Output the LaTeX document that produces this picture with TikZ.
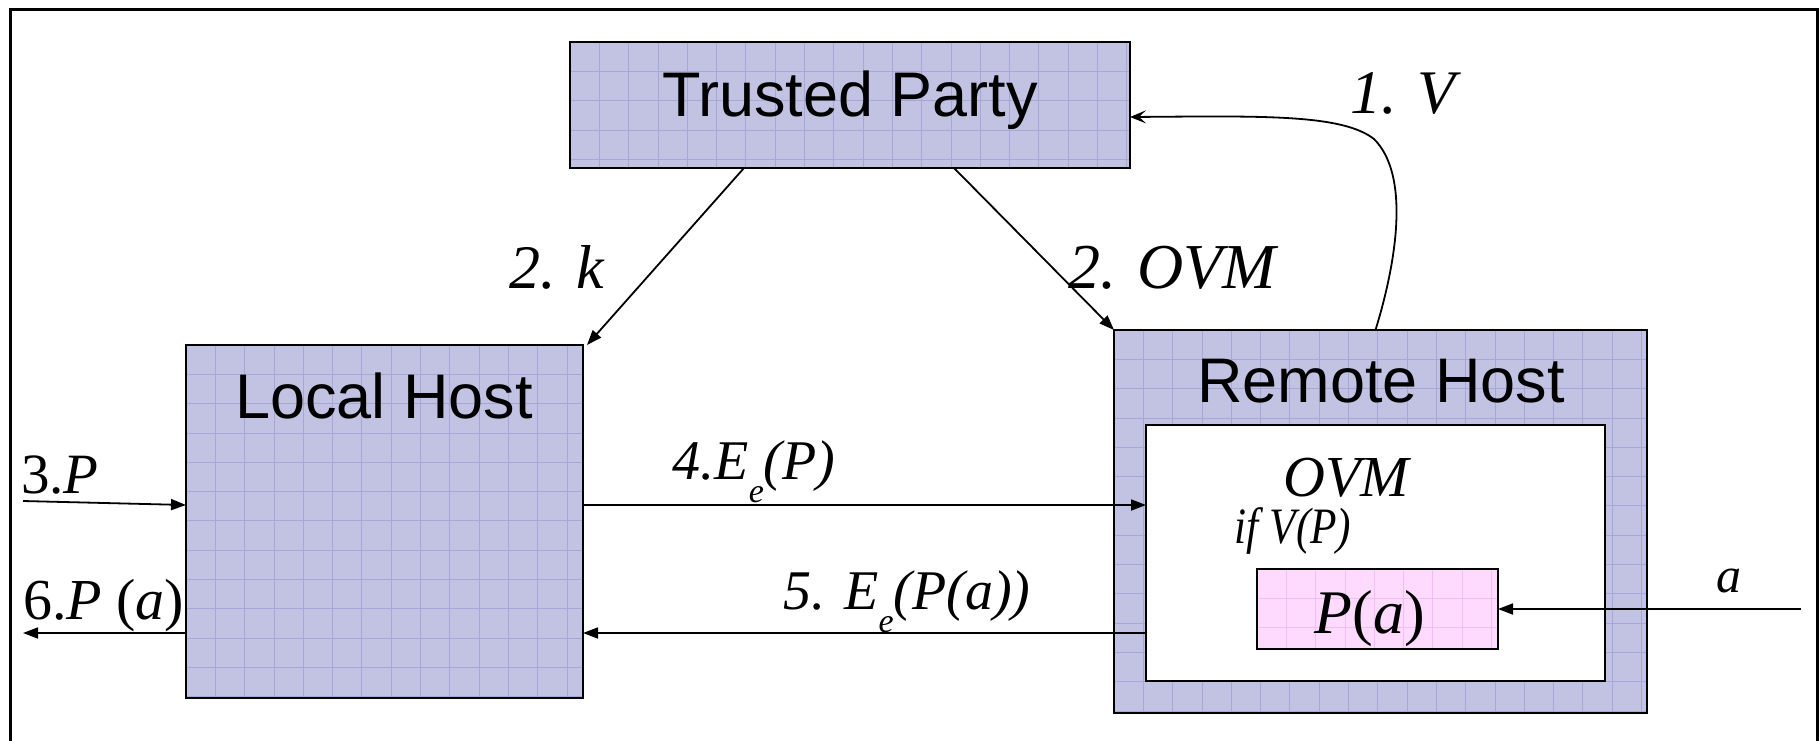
\documentclass[tikz,border=0pt]{standalone}
\usepackage{fontspec}
\setmainfont{Liberation Serif}
\newfontfamily\sansf{Liberation Sans}
\usetikzlibrary{arrows.meta,calc}

\definecolor{lav}{RGB}{194,194,226}
\definecolor{lavgrid}{RGB}{166,166,216}
\definecolor{pk}{RGB}{255,218,255}
\definecolor{pkgrid}{RGB}{240,190,240}

% E with a low subscript e
\newcommand\Ee{E\raisebox{-0.42em}{\fontsize{34}{34}\selectfont e}}

\tikzset{
  gridded/.style={
    draw, line width=2.2pt, fill=#1, inner sep=0pt, outer sep=0pt,
    path picture={
      \foreach \k in {1,...,24}{
        \draw[line width=0.8pt, #1grid]
          ([xshift=\k*29.3pt]path picture bounding box.north west) --
          ([xshift=\k*29.3pt]path picture bounding box.south west);
        \draw[line width=0.8pt, #1grid]
          ([yshift=-\k*29.3pt]path picture bounding box.north west) --
          ([yshift=-\k*29.3pt]path picture bounding box.north east);
      }
    }},
  lavbox/.style={gridded=lav},
  pinkbox/.style={gridded=pk},
  whitebox/.style={draw, line width=2.2pt, fill=white, inner sep=0pt, outer sep=0pt},
  title/.style={font=\sansf\fontsize{63}{63}\selectfont, inner sep=0pt, anchor=base},
  lab/.style={font=\fontsize{58}{60}\selectfont\itshape, inner sep=0pt, anchor=base},
  arr/.style={line width=1.8pt, -{Triangle[length=15pt,width=11pt]}},
  curvearr/.style={line width=1.8pt, -{Stealth[length=16pt,width=13pt,inset=7pt]}},
}

\begin{document}
\begin{tikzpicture}[x=1pt, y=-1pt]
\useasboundingbox (0,0) rectangle (1820,740);

% outer frame (open at the bottom)
\draw[line width=3pt] (10,742) -- (10,9) -- (1817,9) -- (1817,742);

% boxes
\node[lavbox, minimum width=560pt, minimum height=126pt] (TP) at (850,105) {};
\node[lavbox, minimum width=397pt, minimum height=353pt] (LH) at (384.5,521.5) {};
\node[lavbox, minimum width=533pt, minimum height=383pt] (RH) at (1380.5,521.5) {};
\node[whitebox, minimum width=459pt, minimum height=256pt] (OVMbox) at (1375.5,553) {};
\node[pinkbox, minimum width=241pt, minimum height=80pt] (Pa) at (1377.5,609) {};

% box titles
\node[title] (TPt) at (850,116) {Trusted Party};
\node[title] (LHt) at (384,418) {Local Host};
\node[title] (RHt) at (1381,402) {Remote Host};

% texts inside the remote host
\node[lab] (ovmt) at (1346,496) {OVM};
\node[lab, font=\fontsize{51}{52}\selectfont\itshape] (ift) at (1293,543) {\scalebox{0.85}[1]{if V(P)}};
\node[lab, font=\fontsize{62}{64}\selectfont] (pat) at (1370,633) {\textit{P}(\textit{a})};

% helper coordinates
\coordinate (c4) at (0,505);
\coordinate (c5) at (0,633);
\coordinate (in3) at (23,501);
\coordinate (out6) at (23,633);
\coordinate (ain) at (1801,609);
\coordinate (kstart) at ([xshift=174pt]TP.south west);
\coordinate (ostart) at ([xshift=384pt]TP.south west);
\coordinate (vstart) at ([xshift=-5pt]RH.north);
\coordinate (vend) at ([yshift=-12pt]TP.east);

% connectors
\draw[arr] (kstart) -- ([xshift=4pt]LH.north east);
\draw[arr] (ostart) -- (RH.north west);
\draw[arr] (LH.east |- c4) -- (OVMbox.west |- c4);
\draw[arr] (OVMbox.west |- c5) -- (LH.east |- c5);
\draw[arr] (in3) -- (LH.west |- c4);
\draw[arr] (LH.west |- c5) -- (out6);
\draw[arr] (ain) -- (Pa.east);
\draw[curvearr] (vstart) .. controls (1397,260) and (1410,175) .. (1374,139)
   .. controls (1342,114) and (1262,116) .. (vend);

% connector labels
\node[lab, font=\fontsize{62}{64}\selectfont\itshape] (l1) at (1403,113) {1. V};
\node[lab, font=\fontsize{62}{64}\selectfont\itshape] (l2k) at (557,288) {2. k};
\node[lab, font=\fontsize{64}{66}\selectfont\itshape] (l2o) at (1172,288) {2. OVM};
\node[lab, font=\fontsize{56}{58}\selectfont\itshape] (l4) at (754,479) {4.\Ee(P)};
\node[lab, font=\fontsize{56}{58}\selectfont\itshape] (l5) at (907,609) {5. \Ee(P(a))};
\node[lab, anchor=base west, font=\fontsize{57}{58}\selectfont] (l3) at (21,493) {3.\textit{P}};
\node[lab, anchor=base west, font=\fontsize{58}{58}\selectfont] (l6) at (23,619) {6.\textit{P} (\textit{a})};
\node[lab, font=\fontsize{50}{52}\selectfont\itshape] (la) at (1729,592) {a};
\end{tikzpicture}
\end{document}
